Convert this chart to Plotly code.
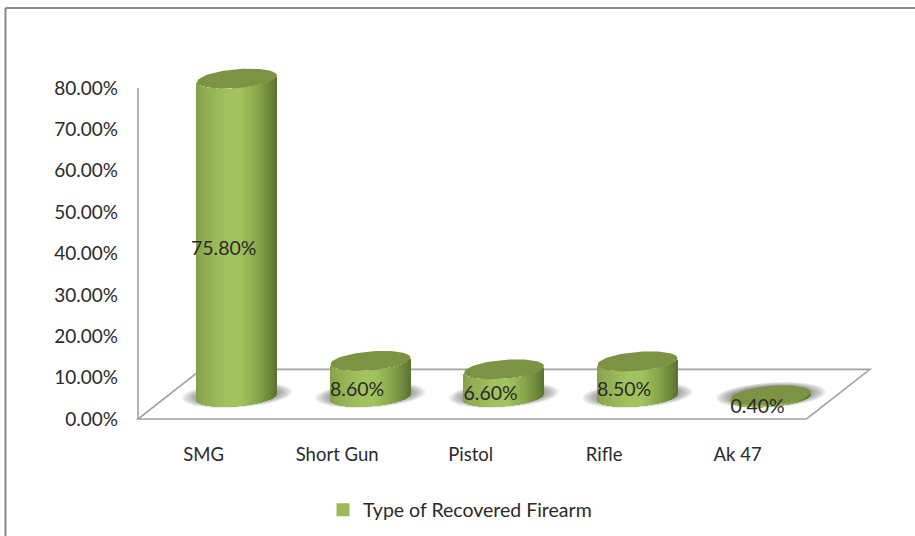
import numpy as np
import plotly.graph_objects as go

categories = ["SMG", "Short Gun", "Pistol", "Rifle", "Ak 47"]
values = [75.8, 8.6, 6.6, 8.5, 0.4]
value_labels = ["75.80%", "8.60%", "6.60%", "8.50%", "0.40%"]
y_ticks = [0, 10, 20, 30, 40, 50, 60, 70, 80]
series_name = "Type of Recovered Firearm"

FONT = "Lato, Carlito, Calibri, sans-serif"
TEXT = "#2a2a2a"
AXIS = "#a3a3a3"
W, H = 915, 536
ML, MR, MT, MB = 119, 35, 50, 95
PX_X = 133.5
PX_Y = 4.1375
X_RANGE = [(ML - 237) / PX_X, (W - MR - 237) / PX_X]
Y_RANGE = [(419 - (H - MB)) / PX_Y, (419 - MT) / PX_Y]

A = 40 / PX_X          # cylinder half width
B = 9.5 / PX_Y         # ellipse half height
K = 3.2 / PX_Y         # ellipse tilt
BASE = 5.3             # base of cylinders above the floor's front edge
STRETCH = 1.015        # perspective stretch of the heights
DEPTH = 12.0           # floor depth
SKEW = 0.475           # floor skew, categories
FLOOR_L = (138 - 237) / PX_X
FLOOR_R = (806.5 - 237) / PX_X
TICK_SHIFT = -0.25
LABEL_DX = -0.1
LABEL_DY = -2.9

STOPS_U = [-1.0, -0.85, -0.3, 0.1, 0.55, 0.85, 1.0]
STOPS_R = [134, 142, 160, 162, 136, 108, 92]
STOPS_G = [160, 170, 193, 196, 165, 134, 116]
STOPS_B = [74, 80, 94, 95, 74, 58, 46]


def ellipse_path(cx, cy, a, b, k, n=72):
    t = np.linspace(0, 2 * np.pi, n)
    return cx + a * np.cos(t), cy + b * np.sin(t) + k * np.cos(t)


fig = go.Figure()
shapes = []


def to_path(xs, ys):
    return "M" + " L".join(f"{x:.4f},{y:.4f}" for x, y in zip(xs, ys)) + " Z"


# floor
floor_x = [FLOOR_L, FLOOR_R, FLOOR_R + SKEW, FLOOR_L + SKEW]
floor_y = [0, 0, DEPTH, DEPTH]
shapes.append(dict(type="path", path=to_path(floor_x, floor_y), xref="x", yref="y",
                   layer="below", fillcolor="white", line=dict(color=AXIS, width=1.6)))

# shadows
for i in range(len(values)):
    for s in np.linspace(1.0, 0.62, 12):
        xs, ys = ellipse_path(i, BASE + 0.5, A * 1.38 * s, B * 1.32 * s, K * s)
        shapes.append(dict(type="path", path=to_path(xs, ys), xref="x", yref="y", layer="below",
                           fillcolor="rgba(70,70,70,0.075)", line=dict(width=0)))

# cylinder walls as narrow bars
n = 80
u = (np.arange(n) + 0.5) / n * 2 - 1
cols = [f"rgb({r:.0f},{g:.0f},{b:.0f})" for r, g, b in zip(
    np.interp(u, STOPS_U, STOPS_R), np.interp(u, STOPS_U, STOPS_G), np.interp(u, STOPS_U, STOPS_B))]
bx, by, bb, bc = [], [], [], []
for i, v in enumerate(values):
    for uu, c in zip(u, cols):
        low = BASE - B * np.sqrt(1 - uu ** 2) + K * uu
        bx.append(i + uu * A)
        bb.append(low)
        by.append(v * STRETCH)
        bc.append(c)
fig.add_trace(go.Bar(x=bx, y=by, base=bb, width=2 * A / n * 1.25, marker=dict(color=bc, line=dict(width=0)),
                     showlegend=False, hoverinfo="skip"))

# y axis line
fig.add_trace(go.Scatter(x=[FLOOR_L, FLOOR_L], y=[y_ticks[0], y_ticks[-1]], mode="lines",
                         line=dict(color=AXIS, width=1.6), showlegend=False, hoverinfo="skip"))

# cylinder caps
for i, v in enumerate(values):
    xs, ys = ellipse_path(i, BASE + v * STRETCH, A, B, K)
    fig.add_trace(go.Scatter(x=xs, y=ys, mode="lines", fill="toself", fillcolor="#7b9343",
                             line=dict(width=0, color="#7b9343"), showlegend=False, hoverinfo="skip"))

# data labels
fig.add_trace(go.Scatter(x=[i + LABEL_DX for i in range(len(values))],
                         y=[BASE + v * STRETCH / 2 + LABEL_DY for v in values],
                         mode="text", text=value_labels, textposition="middle center",
                         textfont=dict(family=FONT, size=19.5, color=TEXT),
                         showlegend=False, hoverinfo="skip"))

# legend entry
fig.add_trace(go.Scatter(x=[None], y=[None], mode="markers", name=series_name,
                         marker=dict(symbol="square", size=13, color="#9bbb59")))

# chart border, open at right and bottom
PW, PH = W - ML - MR, H - MT - MB
shapes.append(dict(type="line", xref="paper", yref="paper", x0=(5.5 - ML) / PW, x1=(W + 5 - ML) / PW,
                   y0=1 + (MT - 8) / PH, y1=1 + (MT - 8) / PH, line=dict(color="#868686", width=2)))
shapes.append(dict(type="line", xref="paper", yref="paper", x0=(5.5 - ML) / PW, x1=(5.5 - ML) / PW,
                   y0=1 + (MT - 8) / PH, y1=-MB / PH, line=dict(color="#868686", width=2)))

fig.update_layout(
    width=W, height=H, margin=dict(l=ML, r=MR, t=MT, b=MB, autoexpand=False),
    paper_bgcolor="white", plot_bgcolor="white", barmode="overlay", bargap=0,
    shapes=shapes, font=dict(family=FONT, size=19, color=TEXT),
    legend=dict(x=(323 - ML) / PW, xanchor="left", y=(-MB + 26) / PH, yanchor="middle",
                orientation="h", font=dict(family=FONT, size=19.5, color=TEXT), bgcolor="rgba(0,0,0,0)"),
    xaxis=dict(range=X_RANGE, tickmode="array", tickvals=[i + TICK_SHIFT for i in range(len(categories))],
               ticktext=categories, showgrid=False, zeroline=False, showline=False, ticks="",
               tickfont=dict(family=FONT, size=18.5, color=TEXT)),
    yaxis=dict(range=Y_RANGE, tickmode="array", tickvals=y_ticks, ticktext=[f"{t:.2f}%" for t in y_ticks],
               showgrid=False, zeroline=False, showline=False, ticks="",
               tickfont=dict(family=FONT, size=19, color=TEXT)),
)
fig.write_html("out.html", config=dict(displayModeBar=False),
               post_script="document.body.style.margin='0';document.documentElement.style.overflow='hidden';")
